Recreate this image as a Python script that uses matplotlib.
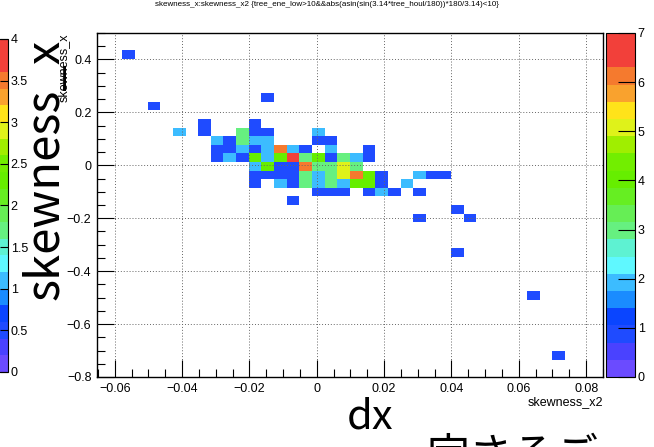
import numpy as np
import matplotlib.pyplot as plt
from matplotlib.colors import ListedColormap, Normalize
from matplotlib.ticker import MultipleLocator

# ROOT-style 40x40 TH2 (skewness_x vs skewness_x2), drawn COLZ
x_range = (-0.0653, 0.0850)
y_range = (-0.8, 0.5)
n_bins = 40

# filled bins: centre on x (skewness_x2), centre on y (skewness_x), entries
x_vals = [-0.05591,
          -0.01457,
          -0.04839,
          -0.03336, -0.01833,
          -0.04088, -0.03336, -0.02209, -0.01833, -0.01457, 0.00046,
          -0.02960, -0.02585, -0.02209, -0.01833, -0.01457, 0.00046, 0.00421,
          -0.02960, -0.02585, -0.02209, -0.01833, -0.01457, -0.01082, -0.00706, -0.00330, 0.00421, 0.01549,
          -0.02960, -0.02585, -0.02209, -0.01833, -0.01457, -0.01082, -0.00706, -0.00330, 0.00046, 0.00421, 0.00797, 0.01173, 0.01549,
          -0.01833, -0.01457, -0.01082, -0.00706, -0.00330, 0.00046, 0.00421, 0.00797, 0.01173,
          -0.01833, -0.01457, -0.01082, -0.00706, -0.00330, 0.00046, 0.00421, 0.00797, 0.01173, 0.01549, 0.01924, 0.03052, 0.03427, 0.03803,
          -0.01833, -0.01082, -0.00706, -0.00330, 0.00046, 0.00421, 0.00797, 0.01173, 0.01549, 0.01924, 0.02676,
          0.00046, 0.00421, 0.00797, 0.01549, 0.01924, 0.02300, 0.03052,
          -0.00706,
          0.04179,
          0.03052, 0.04555,
          0.04179,
          0.06433,
          0.07185]
y_vals = [0.41875,
          0.25625,
          0.22375,
          0.15875, 0.15875,
          0.12625, 0.12625, 0.12625, 0.12625, 0.12625, 0.12625,
          0.09375, 0.09375, 0.09375, 0.09375, 0.09375, 0.09375, 0.09375,
          0.06125, 0.06125, 0.06125, 0.06125, 0.06125, 0.06125, 0.06125, 0.06125, 0.06125, 0.06125,
          0.02875, 0.02875, 0.02875, 0.02875, 0.02875, 0.02875, 0.02875, 0.02875, 0.02875, 0.02875, 0.02875, 0.02875, 0.02875,
          -0.00375, -0.00375, -0.00375, -0.00375, -0.00375, -0.00375, -0.00375, -0.00375, -0.00375,
          -0.03625, -0.03625, -0.03625, -0.03625, -0.03625, -0.03625, -0.03625, -0.03625, -0.03625, -0.03625, -0.03625, -0.03625, -0.03625, -0.03625,
          -0.06875, -0.06875, -0.06875, -0.06875, -0.06875, -0.06875, -0.06875, -0.06875, -0.06875, -0.06875, -0.06875,
          -0.10125, -0.10125, -0.10125, -0.10125, -0.10125, -0.10125, -0.10125,
          -0.13375,
          -0.16625,
          -0.19875, -0.19875,
          -0.32875,
          -0.49125,
          -0.71875]
counts = [1,
          1,
          1,
          1, 1,
          2, 1, 3, 1, 1, 2,
          2, 1, 3, 2, 2, 1, 1,
          1, 1, 2, 1, 2, 6, 2, 1, 2, 1,
          1, 2, 1, 4, 2, 4, 7, 3, 4, 1, 3, 2, 1,
          2, 4, 1, 1, 6, 3, 3, 5, 3,
          1, 1, 1, 1, 3, 2, 3, 5, 6, 4, 1, 2, 1, 1,
          1, 2, 1, 3, 2, 3, 2, 4, 4, 1, 2,
          1, 1, 1, 1, 2, 1, 1,
          1,
          1,
          1, 1,
          1,
          1,
          1]

# palette as seen on the colour bar (20 contour bands)
palette = ['#6b4bff', '#4a42ff', '#1f4bff', '#0a45ff', '#1a8cff',
           '#3cbcff', '#5ff8ff', '#5ef2d2', '#66f080', '#66ee55',
           '#66ee22', '#66ee00', '#72ee00', '#a0ee00', '#dff21a',
           '#ffe31a', '#f9a22e', '#f57a2e', '#f2403a', '#f2403a']
cmap = ListedColormap(palette)

x_edges = np.linspace(x_range[0], x_range[1], n_bins + 1)
y_edges = np.linspace(y_range[0], y_range[1], n_bins + 1)
H, _, _ = np.histogram2d(x_vals, y_vals, bins=[x_edges, y_edges], weights=counts)
H = np.ma.masked_equal(H.T, 0)

plt.rcParams['font.family'] = ['Liberation Sans', 'DejaVu Sans']
fig = plt.figure(figsize=(6.54, 4.47), dpi=100)

ax = fig.add_axes([0.1483, 0.1566, 0.7737, 0.7696])
mesh = ax.pcolormesh(x_edges, y_edges, H, cmap=cmap, norm=Normalize(0, 7))
ax.set_xlim(x_range)
ax.set_ylim(y_range)
ax.xaxis.set_major_locator(MultipleLocator(0.02))
ax.xaxis.set_minor_locator(MultipleLocator(0.005))
ax.yaxis.set_major_locator(MultipleLocator(0.2))
ax.yaxis.set_minor_locator(MultipleLocator(0.05))
ax.tick_params(which='both', direction='in', top=False, right=False,
               labelsize=9, width=0.8, pad=4)
ax.tick_params(which='major', length=12)
ax.tick_params(which='minor', length=6)
ax.grid(True, which='major', color='#666666', linestyle=(0, (1, 2)), linewidth=0.7)
ax.set_axisbelow(False)
xt = np.arange(-0.06, 0.081, 0.02)
ax.set_xticks(xt)
ax.set_xticklabels(['\u22120.06', '\u22120.04', '\u22120.02', '0', '0.02', '0.04', '0.06', '0.08'])
yt = np.arange(-0.8, 0.41, 0.2)
ax.set_yticks(yt)
ax.set_yticklabels(['\u22120.8', '\u22120.6', '\u22120.4', '\u22120.2', '0', '0.2', '0.4'])
for s in ax.spines.values():
    s.set_linewidth(1.0)

# right palette axis (0..7)
cax = fig.add_axes([0.9266, 0.1566, 0.0443, 0.7696])
cb = fig.colorbar(mesh, cax=cax, ticks=range(8))
cb.outline.set_linewidth(0.8)
cax.tick_params(direction='in', length=12, width=0.8, labelsize=9, pad=2)

# left palette axis of a neighbouring plot (0..4), mostly cut off
lax = fig.add_axes([-0.03, 0.168, 0.042, 0.745])
cb2 = fig.colorbar(plt.cm.ScalarMappable(norm=Normalize(0, 4), cmap=cmap), cax=lax,
                   ticks=np.arange(0, 4.01, 0.5))
cb2.set_ticklabels(['0', '0.5', '1', '1.5', '2', '2.5', '3', '3.5', '4'])
cb2.outline.set_linewidth(0.8)
lax.tick_params(direction='in', length=6, width=0.8, labelsize=9, pad=2)

# titles
fig.text(0.5, 0.989,
         'skewness_x:skewness_x2 {tree_ene_low>10&&abs(asin(sin(3.14*tree_houl/180))*180/3.14)<10}',
         ha='center', va='center', fontsize=5.8)
fig.text(0.922, 0.100, 'skewness_x2', ha='right', va='center', fontsize=9)
fig.text(0.097, 0.926, 'skewness_x', ha='center', va='top', rotation=90, fontsize=9)

# large labels
fig.text(0.070, 0.62, 'skewness_x', ha='center', va='center', rotation=90,
         fontsize=34, family=['Noto Sans CJK JP', 'DejaVu Sans'])
fig.text(0.566, 0.068, 'dx', ha='center', va='center',
         fontsize=30, family=['Noto Sans CJK JP', 'DejaVu Sans'])
fig.text(0.783, -0.022, '定さるご', ha='center', va='center',
         fontsize=31, family=['Noto Sans CJK JP', 'DejaVu Sans'])

fig.savefig('out.png', dpi=100)
